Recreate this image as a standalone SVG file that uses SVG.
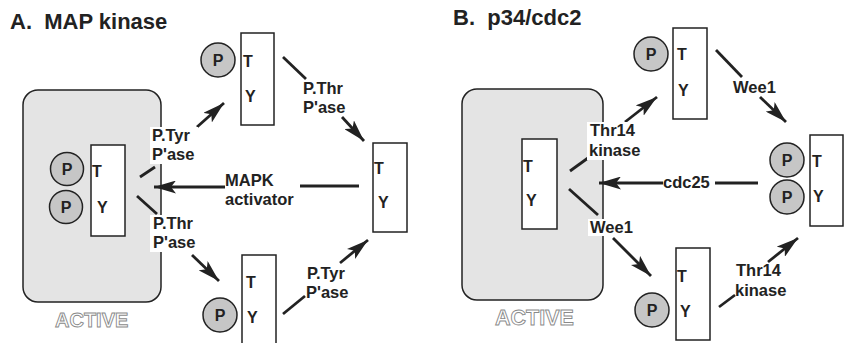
<svg xmlns="http://www.w3.org/2000/svg" width="844" height="343" viewBox="0 0 844 343">
<defs>
<marker id="ah" markerUnits="userSpaceOnUse" markerWidth="24" markerHeight="13" refX="22" refY="6.5" orient="auto">
<path d="M0,0 L22,6.5 L0,13 L5,6.5 z" fill="#222"/>
</marker>
<style>
text{font-family:"Liberation Sans",Arial,Helvetica,sans-serif;font-weight:bold;fill:#222}
.title{font-size:22px;white-space:pre}
.lbl{font-size:16.5px}
.res{font-size:16px}
.pt{font-size:16px;text-anchor:middle}
.act{font-size:20px;font-weight:bold;fill:#fff;stroke:#8a8a8a;stroke-width:0.9}
.active{fill:#e4e4e4;stroke:#222;stroke-width:1.5}
.box{fill:#fff;stroke:#222;stroke-width:1.5}
.p{fill:#c6c6c6;stroke:#222;stroke-width:1.5}
.ln{stroke:#222;stroke-width:2.8;fill:none}
.arr{stroke:#222;stroke-width:2.8;fill:none;marker-end:url(#ah)}
.bg{fill:#fff}
</style>
</defs>

<text class="title" x="10" y="29">A.  MAP kinase</text>
<text class="title" x="453" y="25">B.  p34/cdc2</text>

<g id="activeA">
<rect class="active" x="23" y="90" width="138" height="212" rx="15"/>
<text class="act" x="55" y="327">ACTIVE</text>
</g>
<g id="activeB">
<rect class="active" x="462" y="89" width="141" height="211" rx="15"/>
<text class="act" x="495" y="325" style="font-size:21.5px">ACTIVE</text>
</g>

<g id="connectors">
<!-- A -->
<line class="ln" x1="140" y1="177" x2="155" y2="167"/>
<line class="arr" x1="197" y1="127" x2="224" y2="103"/>
<line class="ln" x1="137" y1="196" x2="157" y2="214"/>
<line class="arr" x1="192" y1="255" x2="219" y2="281"/>
<line class="ln" x1="283" y1="57" x2="306" y2="79"/>
<line class="arr" x1="342" y1="117" x2="364" y2="141"/>
<line class="ln" x1="283" y1="314" x2="305" y2="296"/>
<line class="arr" x1="340" y1="263" x2="368" y2="240"/>
<line class="ln" x1="300" y1="186" x2="359" y2="186"/>
<line class="arr" x1="225" y1="187" x2="154" y2="187"/>
<!-- B -->
<line class="ln" x1="570" y1="171" x2="588" y2="158"/>
<line class="arr" x1="625" y1="122" x2="657" y2="97"/>
<line class="ln" x1="569" y1="189" x2="598" y2="215"/>
<line class="arr" x1="613" y1="238" x2="651" y2="276"/>
<line class="ln" x1="716" y1="50" x2="742" y2="77"/>
<line class="arr" x1="760" y1="97" x2="786" y2="122"/>
<line class="ln" x1="719" y1="307" x2="735" y2="295"/>
<line class="arr" x1="768" y1="262" x2="798" y2="238"/>
<line class="ln" x1="715" y1="183" x2="758" y2="183"/>
<line class="arr" x1="663" y1="183" x2="599" y2="183"/>
</g>

<g id="labels">
<rect class="bg" x="150" y="127" width="48" height="37"/>
<text class="lbl" x="152" y="141">P.Tyr</text>
<text class="lbl" x="152" y="160">P'ase</text>
<rect class="bg" x="150" y="215" width="49" height="37"/>
<text class="lbl" x="153" y="229">P.Thr</text>
<text class="lbl" x="153" y="248">P'ase</text>
<text class="lbl" x="303" y="94">P.Thr</text>
<text class="lbl" x="303" y="113">P'ase</text>
<text class="lbl" x="307" y="279">P.Tyr</text>
<text class="lbl" x="306" y="298">P'ase</text>
<text class="lbl" x="225" y="186">MAPK</text>
<text class="lbl" x="225" y="205">activator</text>

<rect class="bg" x="587" y="122" width="60" height="38"/>
<text class="lbl" x="590" y="136">Thr14</text>
<text class="lbl" x="589" y="156">kinase</text>
<rect class="bg" x="588" y="219" width="48" height="17"/>
<text class="lbl" x="590" y="233">Wee1</text>
<text class="lbl" x="733" y="93">Wee1</text>
<text class="lbl" x="736" y="276">Thr14</text>
<text class="lbl" x="735" y="296">kinase</text>
<text class="lbl" x="663" y="188">cdc25</text>
</g>

<!-- Panel A nodes -->
<g id="A-center">
<rect class="box" x="91" y="145" width="34" height="91"/>
<text class="res" x="92" y="177">T</text>
<text class="res" x="97" y="213">Y</text>
<circle class="p" cx="67" cy="169" r="16.5"/>
<text class="pt" x="67" y="175">P</text>
<circle class="p" cx="66" cy="207" r="16.5"/>
<text class="pt" x="66" y="213">P</text>
</g>
<g id="A-top">
<rect class="box" x="241" y="33" width="33" height="92"/>
<text class="res" x="243" y="67">T</text>
<text class="res" x="245" y="102">Y</text>
<circle class="p" cx="218" cy="60" r="17"/>
<text class="pt" x="218" y="66">P</text>
</g>
<g id="A-right">
<rect class="box" x="373" y="143" width="34" height="89"/>
<text class="res" x="374" y="174">T</text>
<text class="res" x="378" y="208">Y</text>
</g>
<g id="A-bottom">
<rect class="box" x="242" y="255" width="34" height="92"/>
<text class="res" x="246" y="288">T</text>
<text class="res" x="247" y="323">Y</text>
<circle class="p" cx="220" cy="315" r="17"/>
<text class="pt" x="220" y="321">P</text>
</g>

<!-- Panel B nodes -->
<g id="B-center">
<rect class="box" x="522" y="139" width="35" height="90"/>
<text class="res" x="523" y="172">T</text>
<text class="res" x="526" y="206">Y</text>
</g>
<g id="B-top">
<rect class="box" x="673" y="28" width="34" height="91"/>
<text class="res" x="677" y="60">T</text>
<text class="res" x="678" y="96">Y</text>
<circle class="p" cx="651" cy="54" r="17"/>
<text class="pt" x="651" y="60">P</text>
</g>
<g id="B-right">
<rect class="box" x="810" y="135" width="33" height="91"/>
<text class="res" x="812" y="167">T</text>
<text class="res" x="813" y="202">Y</text>
<circle class="p" cx="787" cy="160" r="17"/>
<text class="pt" x="787" y="166">P</text>
<circle class="p" cx="787" cy="197" r="17"/>
<text class="pt" x="787" y="203">P</text>
</g>
<g id="B-bottom">
<rect class="box" x="676" y="248" width="34" height="92"/>
<text class="res" x="677" y="282">T</text>
<text class="res" x="680" y="317">Y</text>
<circle class="p" cx="652" cy="310" r="17"/>
<text class="pt" x="652" y="316">P</text>
</g>
</svg>
